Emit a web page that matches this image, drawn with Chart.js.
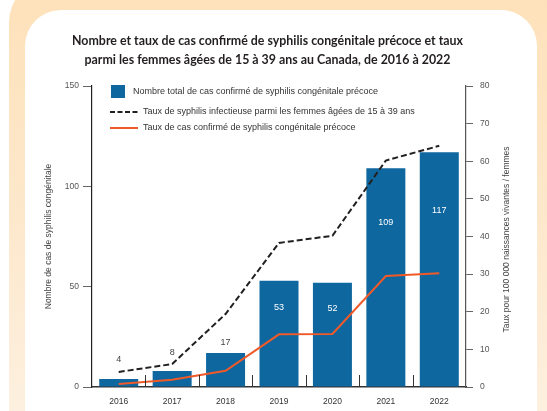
<!DOCTYPE html>
<html>
<head>
<meta charset="utf-8">
<script src="https://cdn.jsdelivr.net/npm/chart.js@4.4.0/dist/chart.umd.min.js"></script>
<style>
html,body{margin:0;padding:0;background:#fff;width:547px;height:411px;overflow:hidden;}
#outer{position:absolute;left:9px;top:-20px;width:600px;height:480px;border-radius:42px;
  background:linear-gradient(to bottom,#fde1b9 0%,#fde8cc 50%,#fdf2e4 100%);}
#inner{position:absolute;left:25px;top:10px;width:512px;height:460px;border-radius:36px;background:#fff;}
#c{position:absolute;left:0;top:0;}
</style>
</head>
<body>
<div id="outer"></div>
<div id="inner"></div>
<canvas id="c" width="547" height="411"></canvas>
<script>
const years = ['2016','2017','2018','2019','2020','2021','2022'];
const caseCounts = [4, 8, 17, 53, 52, 109, 117];
const womenSyphilisRate = [4.0, 6.1, 19.4, 38.3, 40.2, 60.2, 64.1];
const congenitalRate = [0.8, 1.9, 4.3, 14.0, 14.1, 29.5, 30.2];
const titleLines = ['Nombre et taux de cas confirmé de syphilis congénitale précoce et taux',
                    'parmi les femmes âgées de 15 à 39 ans au Canada, de 2016 à 2022'];
const labelBars = 'Nombre total de cas confirmé de syphilis congénitale précoce';
const labelWomen = 'Taux de syphilis infectieuse parmi les femmes âgées de 15 à 39 ans';
const labelCong = 'Taux de cas confirmé de syphilis congénitale précoce';
const leftAxisTitle = 'Nombre de cas de syphilis congénitale';
const rightAxisTitle = 'Taux pour 100 000 naissances vivantes / femmes';

const BLUE = '#0f67a0', ORANGE = '#f05a28', DARK = '#231f20';
const FONT = "'Liberation Sans', Arial, sans-serif";

const extras = {
  id: 'extras',
  afterDatasetsDraw(chart) {
    const ctx = chart.ctx, ca = chart.chartArea;
    const xs = chart.scales.x, y1 = chart.scales.y1;
    ctx.save();
    // inward category ticks
    ctx.strokeStyle = '#333'; ctx.lineWidth = 1;
    const step = (xs.getPixelForValue(1) - xs.getPixelForValue(0));
    for (let i = 0; i < years.length - 1; i++) {
      const x = Math.round(xs.getPixelForValue(i) + step / 2) + 0.5;
      ctx.beginPath(); ctx.moveTo(x, ca.bottom); ctx.lineTo(x, ca.bottom - 12); ctx.stroke();
    }
    // data labels
    const meta = chart.getDatasetMeta(2);
    ctx.font = '9px ' + FONT; ctx.textAlign = 'center'; ctx.textBaseline = 'middle';
    meta.data.forEach((bar, i) => {
      const v = caseCounts[i];
      const h = bar.base - bar.y;
      if (v > 30) {
        ctx.fillStyle = '#fff';
        ctx.fillText(String(v), bar.x, bar.y + 0.25 * h);
      } else {
        const dy = y1.getPixelForValue(womenSyphilisRate[i]);
        let y = bar.y - 10;
        if (dy < bar.y && bar.y - dy < 20) y = dy - 12;
        ctx.fillStyle = '#444';
        ctx.fillText(String(v), bar.x, y);
      }
    });
    ctx.restore();
  },
  afterDraw(chart) {
    const ctx = chart.ctx, ca = chart.chartArea;
    ctx.save();
    // title (condensed by horizontal scaling to match the narrow original face)
    ctx.fillStyle = DARK; ctx.font = "700 12.6px Lato, 'Liberation Sans', sans-serif";
    ctx.textAlign = 'center'; ctx.textBaseline = 'middle';
    const sx = 391 / ctx.measureText(titleLines[0]).width;
    titleLines.forEach((t, i) => {
      ctx.save();
      ctx.translate(267.5, 41 + i * 19);
      ctx.scale(sx, 1);
      ctx.fillText(t, 0, 0);
      ctx.restore();
    });
    // legend
    const lx = ca.left + 19, ly = ca.top;
    ctx.fillStyle = BLUE; ctx.fillRect(lx, ly - 1, 14, 13);
    ctx.lineWidth = 2;
    ctx.strokeStyle = DARK; ctx.setLineDash([5, 2.5]);
    ctx.beginPath(); ctx.moveTo(lx - 1, ly + 26); ctx.lineTo(lx + 27, ly + 26); ctx.stroke();
    ctx.setLineDash([]);
    ctx.strokeStyle = ORANGE;
    ctx.beginPath(); ctx.moveTo(lx - 1, ly + 42); ctx.lineTo(lx + 27, ly + 42); ctx.stroke();
    ctx.fillStyle = '#333'; ctx.font = '9px ' + FONT; ctx.textBaseline = 'middle'; ctx.textAlign = 'left';
    ctx.fillText(labelBars, lx + 22, ly + 5.5);
    ctx.fillText(labelWomen, lx + 32, ly + 26);
    ctx.fillText(labelCong, lx + 32, ly + 42);
    // right axis title (reads bottom to top)
    ctx.translate(507, (ca.top + ca.bottom) / 2 + 3);
    ctx.rotate(-Math.PI / 2);
    ctx.textAlign = 'center'; ctx.fillStyle = '#444'; ctx.font = '8.5px ' + FONT;
    ctx.fillText(rightAxisTitle, 0, 0);
    ctx.restore();
  }
};

new Chart(document.getElementById('c'), {
  type: 'bar',
  data: {
    labels: years,
    datasets: [
      { type: 'line', label: labelCong, data: congenitalRate, yAxisID: 'y1', borderColor: ORANGE,
        borderWidth: 2, pointRadius: 0, tension: 0, fill: false, order: 0 },
      { type: 'line', label: labelWomen, data: womenSyphilisRate, yAxisID: 'y1', borderColor: DARK,
        borderWidth: 2, borderDash: [6, 3], pointRadius: 0, tension: 0, fill: false, order: 1 },
      { type: 'bar', label: labelBars, data: caseCounts, yAxisID: 'y', backgroundColor: BLUE,
        barPercentage: 0.73, categoryPercentage: 1, order: 2 }
    ]
  },
  options: {
    responsive: false, animation: false,
    layout: { padding: { left: 0, right: 0, top: 86, bottom: 0 } },
    plugins: {
      legend: { display: false }, tooltip: { enabled: false }, title: { display: false }
    },
    scales: {
      x: {
        grid: { display: false },
        border: { display: true, color: '#333', width: 1.5 },
        ticks: { color: '#333', font: { family: FONT, size: 8.5 }, padding: 2 },
        afterFit(s) { s.height = 24; }
      },
      y: {
        position: 'left', min: 0, max: 150,
        ticks: { stepSize: 50, color: '#555', font: { family: FONT, size: 8.5 }, padding: 4 },
        grid: { drawOnChartArea: false, drawTicks: true, tickLength: 9, color: '#666' },
        border: { display: true, color: '#222', width: 1.2 },
        title: { display: true, text: leftAxisTitle, color: '#444', font: { family: FONT, size: 8.5 }, padding: { top: 44, bottom: 0 } },
        afterFit(s) { s.width = 92; }
      },
      y1: {
        position: 'right', min: 0, max: 80,
        ticks: { stepSize: 10, color: '#555', font: { family: FONT, size: 8.5 }, padding: 7 },
        grid: { drawOnChartArea: false, drawTicks: true, tickLength: 7, color: '#666' },
        border: { display: true, color: '#555', width: 1.2 },
        afterFit(s) { s.width = 81; }
      }
    }
  },
  plugins: [extras]
});
</script>
</body>
</html>
